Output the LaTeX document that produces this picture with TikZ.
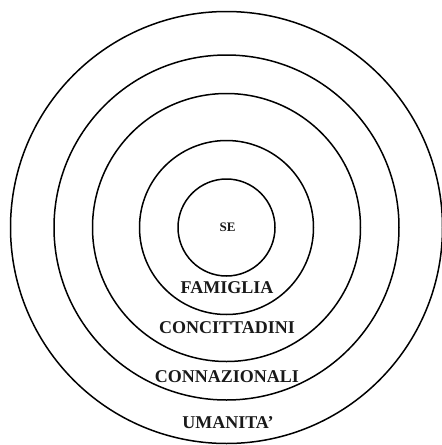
\documentclass[tikz,border=0pt]{standalone}
\usepackage{fontspec}
\setmainfont{Liberation Serif}
\begin{document}
\begin{tikzpicture}[x=1pt,y=-1pt,
  ring/.style={draw=black,line width=1.5pt},
  lbl/.style={font=\fontsize{18}{20}\selectfont\bfseries,inner sep=0pt,text=black!90},
  selbl/.style={font=\fontsize{13}{15}\selectfont\bfseries,inner sep=0pt,text=black!90}]
\useasboundingbox (0,0) rectangle (442,445);
\coordinate (c) at (226.5,227.5);
\draw[ring] (c) circle[radius=48.5];
\draw[ring] (c) circle[radius=87];
\draw[ring] (c) circle[radius=134];
\draw[ring] (c) circle[radius=172.5];
\draw[ring] (c) circle[radius=216];
\node[selbl] (se) at (227.5,227) {SE};
\node[lbl] (fam) at (227,287.5) {FAMIGLIA};
\node[lbl] (conc) at (227,328) {CONCITTADINI};
\node[lbl] (conn) at (227,377) {CONNAZIONALI};
\node[lbl] (uma) at (228,423) {UMANITA’};
\end{tikzpicture}
\end{document}
